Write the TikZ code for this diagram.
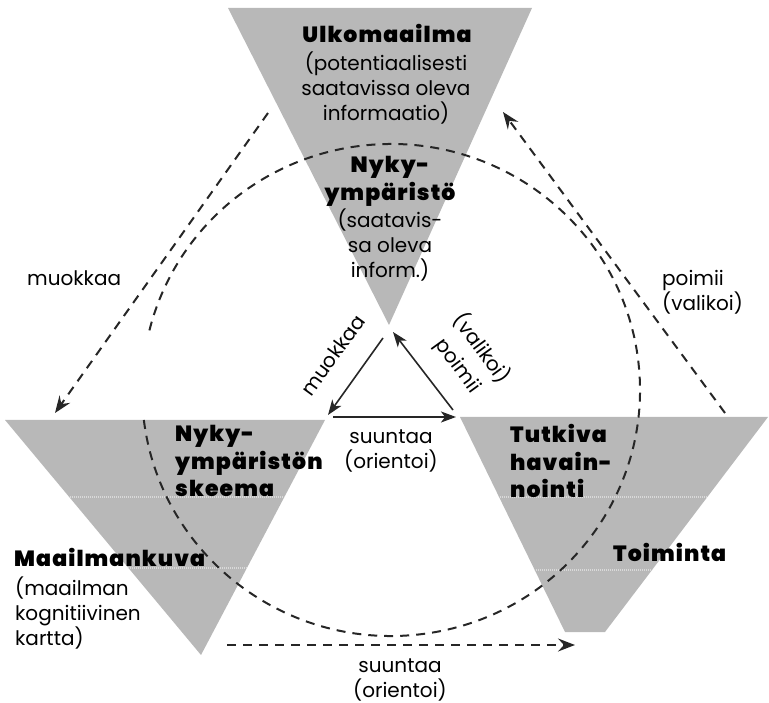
\documentclass[tikz,border=0pt]{standalone}
\usepackage{fontspec}
\setmainfont{Poppins}[BoldFont={Poppins Black}, BoldFeatures={LetterSpace=5}]
\usetikzlibrary{arrows.meta}
\begin{document}
\begin{tikzpicture}[x=1pt,y=1pt,
  tri/.style={fill=black!28, draw=none},
  band/.style={white!85!black, line width=1.1pt, dash pattern=on 1pt off 1pt},
  dline/.style={line width=2pt, dash pattern=on 9pt off 7pt, black!85},
  dtip/.style={-{Stealth[length=17pt,width=13pt,inset=6pt]}},
  sline/.style={line width=1.6pt, black!85, -{Stealth[length=15pt,width=11pt,inset=4pt]}},
  lbl/.style={font=\fontsize{20}{25}\selectfont, inner sep=0pt},
  bld/.style={font=\fontsize{22}{28}\selectfont\bfseries, inner sep=0pt},
]
\useasboundingbox (0,0) rectangle (769,-703);

% triangles
\path[tri] (228,-8) -- (532,-8) -- (389,-325) -- cycle;
\path[tri] (5,-420) -- (325,-420) -- (201,-655) -- cycle;
\path[tri] (460,-417) -- (768,-417) -- (605,-632) -- (565,-632) -- cycle;

\begin{scope}
  \clip (5,-420) -- (325,-420) -- (201,-655) -- cycle;
  \draw[band] (0,-497) -- (330,-497);
  \draw[band] (0,-568) -- (330,-568);
\end{scope}
\begin{scope}
  \clip (460,-417) -- (768,-417) -- (605,-632) -- (565,-632) -- cycle;
  \draw[band] (450,-497) -- (769,-497);
  \draw[band] (450,-570) -- (769,-570);
\end{scope}

% connector end points
\coordinate (mS) at (268,-113);
\coordinate (mE) at (55,-413);
\coordinate (pS) at (725,-413);
\coordinate (pE) at (503,-112);
\coordinate (sS) at (227,-645);
\coordinate (sE) at (575,-645);
\coordinate (cC) at (391,-390);
\coordinate (iT1) at (383,-338);
\coordinate (iL) at (328,-415);
\coordinate (iL2) at (333,-417);
\coordinate (iR) at (456,-417);
\coordinate (iR2) at (453,-410);
\coordinate (iT2) at (393,-332);

% dashed connectors
\draw[dline] (cC) ++(187:249pt and 246pt) arc[start angle=187,end angle=526,x radius=249pt,y radius=246pt];
\draw[dline, dtip] (mS) -- (mE);
\draw[dline, dtip] (pS) -- (pE);
\draw[dline, dtip] (sS) -- (sE);

% inner triangle of arrows
\draw[sline] (iT1) -- (iL);
\draw[sline] (iL2) -- (iR);
\draw[sline] (iR2) -- (iT2);

% texts in the top triangle
\node[bld] (ulko) at (387,-33) {Ulkomaailma};
\node[lbl, align=center] (ulkoSub) at (386,-88) {(potentiaalisesti\\saatavissa oleva\\informaatio)};
\node[bld, align=center] (nyky) at (390,-181) {Nyky-\\ympäristö};
\node[lbl, align=center] (nykySub) at (390,-245) {(saatavis-\\sa oleva\\inform.)};

% left triangle
\node[bld, align=left, anchor=west, font=\fontsize{22}{27.5}\selectfont\bfseries] (skeema) at (175,-461) {Nyky-\\ympäristön\\skeema};
\node[bld, anchor=west] (mk) at (14,-557) {Maailmankuva};
\node[lbl, align=left, anchor=west] (mkSub) at (15,-613) {(maailman\\kognitiivinen\\kartta)};

% right triangle
\node[bld, align=left, anchor=west, font=\fontsize{22}{27.5}\selectfont\bfseries] (tutk) at (510,-461) {Tutkiva\\havain-\\nointi};
\node[bld, anchor=west] (toim) at (613,-552) {Toiminta};

% connector labels
\node[lbl, anchor=west] (muokL) at (27,-278) {muokkaa};
\node[lbl, align=left, anchor=west] (poimR) at (662,-292) {poimii\\(valikoi)};
\node[lbl, align=center] (suunI) at (391,-451) {suuntaa\\(orientoi)};
\node[lbl, align=center] (suunB) at (400,-680) {suuntaa\\(orientoi)};
\node[lbl, rotate=54] (muokI) at (333,-355) {muokkaa};
\node[lbl, align=center, rotate=-54, font=\fontsize{20}{29}\selectfont] (poimI) at (470,-357) {(valikoi)\\poimii};
\end{tikzpicture}
\end{document}
